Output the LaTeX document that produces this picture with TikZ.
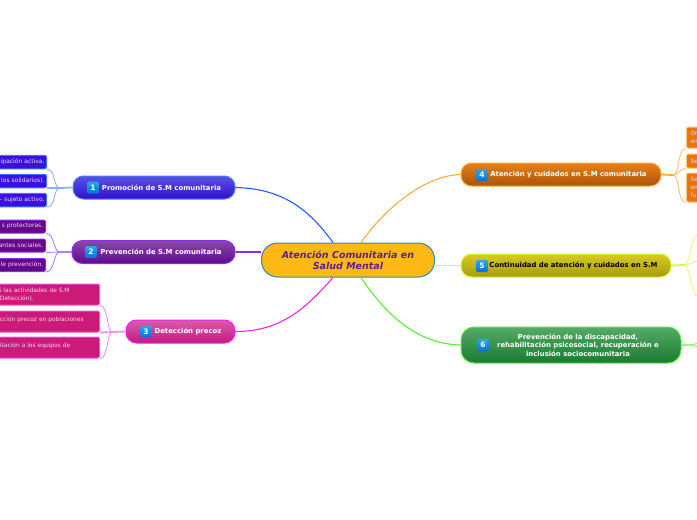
\documentclass[tikz,border=0pt]{standalone}
\usepackage{fontspec}
\setmainfont{DejaVu Sans}
\definecolor{cblue}{HTML}{1E5BFF}\definecolor{cbluel}{HTML}{8AB0FF}
\definecolor{cpur}{HTML}{8A2BF2}\definecolor{cpurl}{HTML}{A880FF}
\definecolor{cpink}{HTML}{EE22EE}\definecolor{cpinkl}{HTML}{F590F5}
\definecolor{corg}{HTML}{FFAA33}\definecolor{corgl}{HTML}{FFC070}
\definecolor{cyel}{HTML}{CCFF33}\definecolor{cyell}{HTML}{DDFF70}
\definecolor{cgrn}{HTML}{55EE33}\definecolor{cgrnl}{HTML}{90F080}
\definecolor{leaftxt}{HTML}{EBDCF0}
\definecolor{HIa}{HTML}{2AA5EF}\definecolor{HIb}{HTML}{0A70D0}
\definecolor{HCb}{HTML}{2A8AC0}\definecolor{HCf}{HTML}{FDB813}\definecolor{HCt}{HTML}{5A2090}
\tikzset{
  x=1pt,y=-1pt,
  branchbox/.style={draw,line width=1pt,rounded corners=10.5pt,minimum height=23pt,inner sep=0pt,text=white,font=\bfseries\fontsize{6.9}{8.4}\selectfont,align=center},
  leafbox/.style={line width=1pt,rounded corners=2pt,inner sep=0pt,text=leaftxt,font=\fontsize{6}{8}\selectfont,anchor=east},
  iconbox/.style={rounded corners=1.5pt,top color=HIa,bottom color=HIb,minimum size=12pt,inner sep=0pt,text=white,font=\bfseries\fontsize{7.5}{8}\selectfont},
  centerbox/.style={draw=HCb,line width=1pt,fill=HCf,rounded corners=16pt,minimum width=173pt,minimum height=34pt,inner sep=0pt,text=HCt,font=\bfseries\itshape\fontsize{9.5}{11}\selectfont,align=center},
  mainlink/.style={line width=1.1pt},
  sublink/.style={line width=.9pt},
  stublink/.style={line width=1.8pt}
}
\begin{document}
\begin{tikzpicture}
\path[use as bounding box] (0,0) rectangle (697,520);
\clip (0,0) rectangle (697,520);

\coordinate (jp1) at (60,188);
\coordinate (jp2) at (60,252);
\coordinate (jp3) at (113,332);
\coordinate (jp4) at (673,175);
\coordinate (jp5) at (684,265);
\coordinate (jp6) at (693,345);
\coordinate (y1) at (699,234);
\coordinate (y2) at (699,261);
\coordinate (y3) at (699,297);
\coordinate (g1) at (699,342);
\coordinate (g2) at (699,348);

\node[centerbox] (c) at (348,260) {Atención Comunitaria en\\Salud Mental};

\node[branchbox,draw=cblue!60!cbluel,top color={rgb,255:red,90;green,82;blue,224},bottom color={rgb,255:red,47;green,16;blue,208},minimum width=162pt] (b1) at (154,187.5) {\hspace*{15pt}Promoción de S.M comunitaria};
\node[branchbox,draw=cpur,top color={rgb,255:red,138;green,74;blue,168},bottom color={rgb,255:red,95;green,10;blue,144},minimum width=163pt] (b2) at (153.5,252) {\hspace*{15pt}Prevención de S.M comunitaria};
\node[branchbox,draw=cpink,top color={rgb,255:red,221;green,90;blue,170},bottom color={rgb,255:red,196;green,26;blue,128},minimum width=109pt] (b3) at (180.5,331.5) {\hspace*{15pt}Detección precoz};
\node[branchbox,draw=corg,top color={rgb,255:red,232;green,128;blue,26},bottom color={rgb,255:red,168;green,84;blue,8},minimum width=200pt] (b4) at (561,174.5) {\hspace*{15pt}Atención y cuidados en S.M comunitaria};
\node[branchbox,draw=cyel,text=black,top color={rgb,255:red,216;green,204;blue,32},bottom color={rgb,255:red,168;green,154;blue,16},minimum width=210pt] (b5) at (566,265.5) {\hspace*{15pt}Continuidad de atención y cuidados en S.M};
\node[branchbox,draw=cgrn,top color={rgb,255:red,85;green,170;blue,102},bottom color={rgb,255:red,26;green,122;blue,48},rounded corners=13pt,minimum width=220pt,minimum height=36pt] (b6) at (571,345) {\hspace*{14pt}\parbox{178pt}{\centering Prevención de la discapacidad,\\rehabilitación psicosocial, recuperación e\\inclusión sociocomunitaria}};

\node[iconbox] (i1) at (93,187.5) {1};
\node[iconbox] (i2) at (91,252) {2};
\node[iconbox] (i3) at (146,331.5) {3};
\node[iconbox] (i4) at (482,175) {4};
\node[iconbox] (i5) at (482,266) {5};
\node[iconbox] (i6) at (483,345) {6};

\tikzset{lb/.style={leafbox,draw=cblue!70!cbluel,fill={rgb,255:red,58;green,16;blue,224},minimum width=64pt,minimum height=13.5pt,text width=60pt,align=right}}
\node[lb] (l11) at (47,162) {ipación activa.};
\node[lb] (l12) at (47,181) {los solidarios).};
\node[lb] (l13) at (47,200) {- sujeto activo.};
\tikzset{lp/.style={leafbox,draw=cpur,fill={rgb,255:red,102;green,7;blue,138},minimum width=64pt,minimum height=13pt,text width=59.5pt,align=right}}
\node[lp] (l21) at (46,226.5) {s protectoras.};
\node[lp] (l22) at (46,245.5) {antes sociales.};
\node[lp] (l23) at (46,265) {le prevención.};
\tikzset{lq/.style={leafbox,font=\fontsize{5.9}{8}\selectfont,draw=cpink!80!white,fill={rgb,255:red,204;green,26;blue,120},minimum width=120pt,minimum height=21pt,align=left,text width=115pt}}
\node[lq] (l31) at (100,294.5) {\hspace*{21.5pt}\llap{S }las actividades de S.M\\\hspace*{18pt}Detección).};
\node[lq] (l32) at (100,321.5) {\raisebox{4pt}{\hspace*{18pt}cción precoz en poblaciones}};
\node[lq] (l33) at (100,347.5) {\raisebox{4pt}{\hspace*{18pt}itación a los equipos de}};
\tikzset{lo/.style={leafbox,font=\fontsize{5.9}{8}\selectfont,anchor=west,draw=corgl,fill={rgb,255:red,232;green,116;blue,12},minimum width=40pt,align=left,text width=36pt}}
\node[lo,minimum height=21pt] (l41) at (686,137.5) {\hspace*{2pt}Or\\\hspace*{2pt}en};
\node[lo,minimum height=14pt] (l42) at (686,161) {\hspace*{2pt}Se};
\node[lo,minimum height=29pt] (l43) at (686,187.5) {\hspace*{2pt}Se\\\hspace*{2pt}en\\\hspace*{2pt}fu};

\draw[mainlink,cblue] (b1.east) .. controls +(50,1) and +(-22,-30) .. ([xshift=-15pt]c.north);
\draw[mainlink,cpur] (b2.east) -- (c.west |- b2.east);
\draw[mainlink,cpink] (b3.east) .. controls +(48,0) and +(-25,28) .. ([xshift=-15pt]c.south);
\draw[mainlink,corg] ([xshift=13pt]c.north) .. controls +(24,-34) and +(-36,1) .. (b4.west);
\draw[mainlink,cyel] (c.east |- b5.west) -- (b5.west);
\draw[mainlink,cgrn] ([xshift=13pt]c.south) .. controls +(24,36) and +(-44,-1) .. (b6.west);

\draw[stublink,cbluel] (b1.west) -- (jp1);
\draw[sublink,cbluel] (jp1) .. controls +(-7,0) and +(9,0) .. (l11.south east);
\draw[stublink,cbluel] (jp1) -- (l12.east |- jp1);
\draw[sublink,cbluel] (jp1) .. controls +(-7,0) and +(9,0) .. (l13.south east);
\draw[stublink,cpurl] (b2.west) -- (jp2);
\draw[sublink,cpurl] (jp2) .. controls +(-7,0) and +(9,0) .. (l21.south east);
\draw[sublink,cpurl] (jp2) -- (l22.south east);
\draw[sublink,cpurl] (jp2) .. controls +(-7,0) and +(9,0) .. (l23.south east);
\draw[stublink,cpinkl] (b3.west) -- (jp3) -- (l32.south east);
\draw[sublink,cpinkl] (jp3) .. controls +(-7,0) and +(9,0) .. (l31.south east);
\draw[sublink,cpinkl] (jp3) .. controls +(-7,0) and +(9,0) .. (l33.south east);
\draw[stublink,corg] (b4.east) -- (jp4);
\draw[sublink,corgl] (jp4) .. controls +(7,0) and +(-9,0) .. (l41.south west);
\draw[sublink,corgl] (jp4) .. controls +(6,0) and +(-7,0) .. (l42.south west);
\draw[sublink,corgl] (jp4) .. controls +(7,0) and +(-9,0) .. (l43.south west);
\draw[stublink,cyel] (b5.east) -- (jp5);
\draw[sublink,cyell] (jp5) .. controls +(7,0) and +(-9,1) .. (y1);
\draw[sublink,cyell] (jp5) .. controls +(6,0) and +(-6,0) .. (y2);
\draw[sublink,cyell] (jp5) .. controls +(7,0) and +(-9,-1) .. (y3);
\draw[stublink,cgrn!60!white] (b6.east) -- (jp6);
\draw[sublink,cgrnl] (jp6) -- (g1);
\draw[sublink,cgrnl] (jp6) -- (g2);
\end{tikzpicture}
\end{document}
